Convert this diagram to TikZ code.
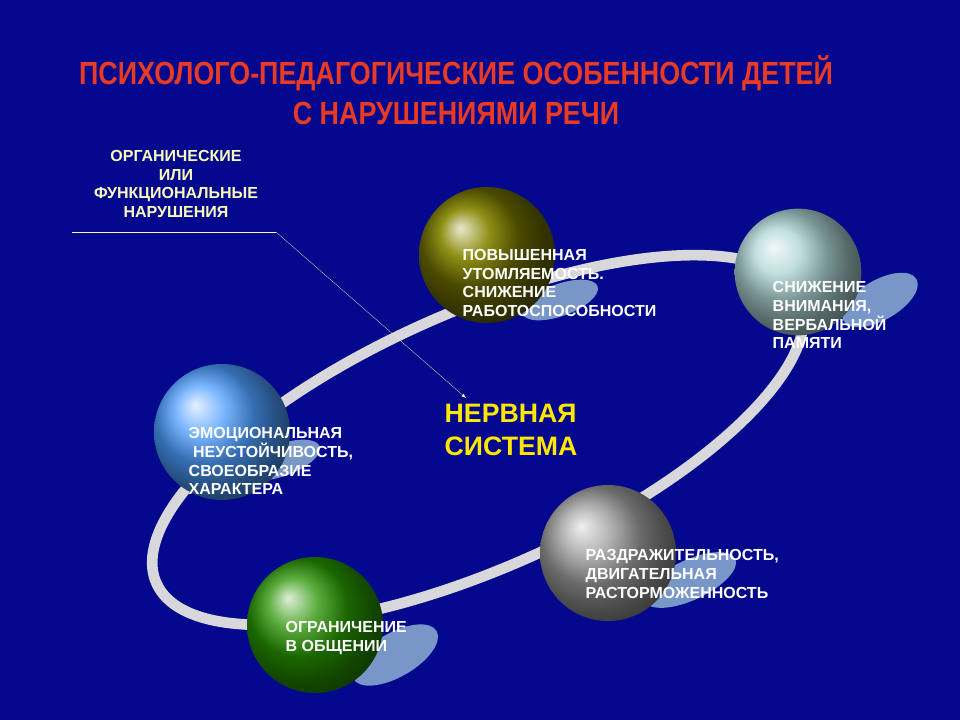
\documentclass[tikz,border=0pt]{standalone}
\usepackage{fontspec}
\setmainfont{Liberation Sans}
\newfontfamily\narrowfont[FakeStretch=0.84]{Liberation Sans}
\usetikzlibrary{positioning}
\definecolor{bgblue}{RGB}{4,8,140}
\definecolor{titlered}{RGB}{232,58,36}
\definecolor{paleyellow}{RGB}{250,250,190}
\definecolor{ringgrey}{RGB}{215,215,220}
\definecolor{shadowblue}{RGB}{120,150,200}
\tikzset{
  ball/.style={circle, minimum size=102pt, inner sep=0pt, ball color=#1},
  balltext/.style={text=white, font=\bfseries\fontsize{12}{14.2}\selectfont, align=left, anchor=west}
}
\begin{document}
\begin{tikzpicture}[x=0.75pt,y=0.75pt,yscale=-1,xscale=1]
\useasboundingbox[fill=bgblue] (0,0) rectangle (960,720);

% title
\node (title) [text=titlered, font=\narrowfont\bfseries\fontsize{24}{30}\selectfont, align=center] at (456,90)
  {ПСИХОЛОГО-ПЕДАГОГИЧЕСКИЕ ОСОБЕННОСТИ ДЕТЕЙ\\С НАРУШЕНИЯМИ РЕЧИ};

% ring
\draw [ringgrey, line width=8pt] (478,440) ellipse [x radius=352, y radius=128, rotate=-24];

% shadows
\fill [shadowblue] (880,300) ellipse [x radius=42, y radius=20, rotate=-30];
\fill [shadowblue] (560,300) ellipse [x radius=40, y radius=16, rotate=-20];
\fill [shadowblue] (282,460) ellipse [x radius=40, y radius=16, rotate=-20];
\fill [shadowblue] (690,580) ellipse [x radius=50, y radius=20, rotate=-25];
\fill [shadowblue] (395,655) ellipse [x radius=48, y radius=22, rotate=-30];

% spheres
\node (fatigue) [ball={olive!70!black!90}] at (487,255) {};
\node (attention) [ball={gray!70!cyan!50}, minimum size=95pt] at (798,272) {};
\node (emotion) [ball={blue!55!cyan!70}] at (222,432) {};
\node (irritab) [ball={gray!80}] at (608,553) {};
\node (contact) [ball={green!50!black!85!yellow}] at (315,625) {};

% texts
\node (t1) [balltext] at (458,283) {ПОВЫШЕННАЯ\\УТОМЛЯЕМОСТЬ.\\СНИЖЕНИЕ\\РАБОТОСПОСОБНОСТИ};
\node (t2) [balltext] at (768,315) {СНИЖЕНИЕ\\ВНИМАНИЯ,\\ВЕРБАЛЬНОЙ\\ПАМЯТИ};
\node (t3) [balltext] at (184,461) {ЭМОЦИОНАЛЬНАЯ\\\ НЕУСТОЙЧИВОСТЬ,\\СВОЕОБРАЗИЕ\\ХАРАКТЕРА};
\node (t4) [balltext] at (581,574) {РАЗДРАЖИТЕЛЬНОСТЬ,\\ДВИГАТЕЛЬНАЯ\\РАСТОРМОЖЕННОСТЬ};
\node (t5) [balltext] at (281,638) {ОГРАНИЧЕНИЕ\\ В ОБЩЕНИИ};

% centre and label
\node (nerve) [text=yellow!90!orange, font=\bfseries\fontsize{20}{25}\selectfont, align=left, anchor=west] at (440,430) {НЕРВНАЯ\\СИСТЕМА};
\node (organic) [text=paleyellow, font=\bfseries\fontsize{12}{14}\selectfont, align=center] at (176,184)
  {ОРГАНИЧЕСКИЕ\\ИЛИ\\ФУНКЦИОНАЛЬНЫЕ\\НАРУШЕНИЯ};
\coordinate (lineleft) at (72,232);
\coordinate (linebend) at (276,232);
\coordinate (tip) at (466,398);
\draw [paleyellow, thin] (lineleft) -- (linebend);
\draw [paleyellow, very thin, -latex] (linebend) -- (tip);
\end{tikzpicture}
\end{document}
